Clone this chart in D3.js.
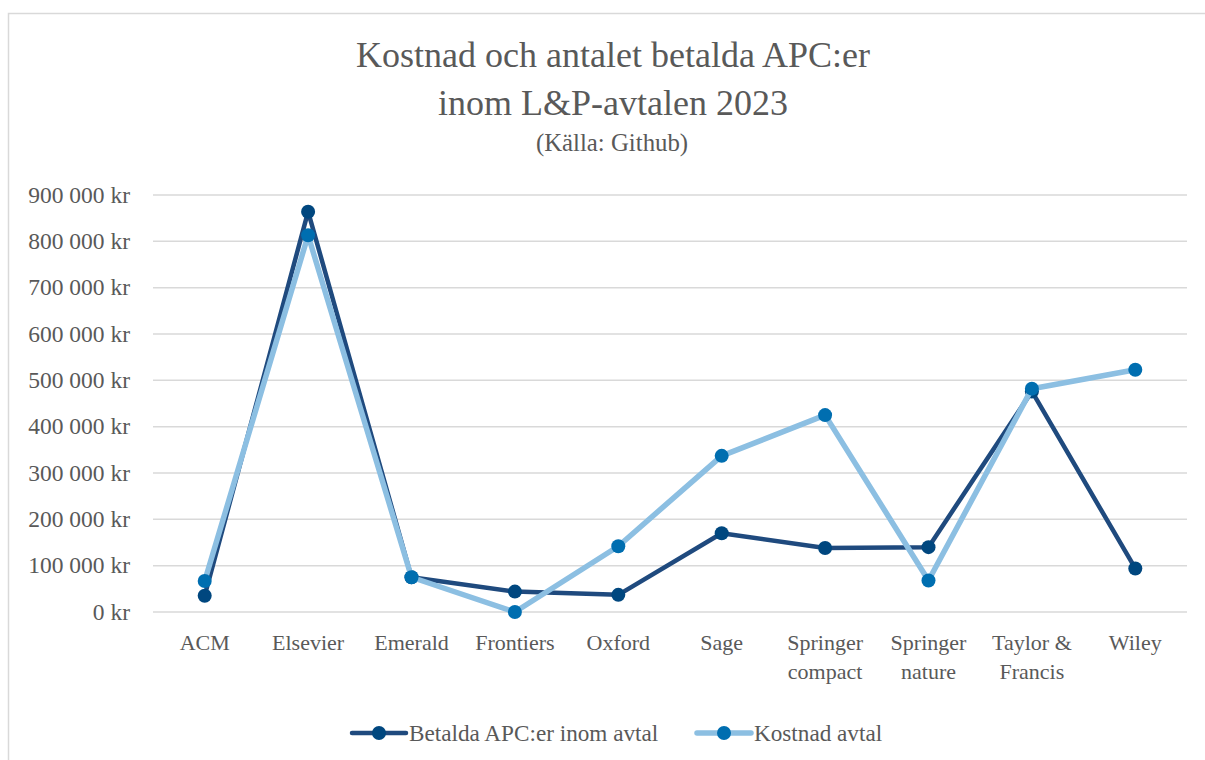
<!DOCTYPE html>
<html><head><meta charset="utf-8">
<script src="https://cdn.jsdelivr.net/npm/d3@7"></script>
<style>
html,body{margin:0;padding:0;background:#fff;}
svg{display:block;}
text{font-family:"Liberation Serif","Times New Roman",serif;fill:#595959;}
</style></head>
<body>
<svg id="chart" width="1205" height="760"></svg>
<script>
const categories = ["ACM","Elsevier","Emerald","Frontiers","Oxford","Sage","Springer compact","Springer nature","Taylor & Francis","Wiley"];
const categoryLines = [["ACM"],["Elsevier"],["Emerald"],["Frontiers"],["Oxford"],["Sage"],["Springer","compact"],["Springer","nature"],["Taylor &","Francis"],["Wiley"]];
const betalda = [35000, 864000, 75000, 44000, 37000, 170000, 138000, 140000, 476000, 94000];
const kostnad = [67000, 813000, 75000, 0, 142000, 337000, 425000, 68000, 482000, 523000];
const yTicks = [0,100000,200000,300000,400000,500000,600000,700000,800000,900000];
const seriesNames = ["Betalda APC:er inom avtal","Kostnad avtal"];
const titleLines = ["Kostnad och antalet betalda APC:er","inom L&P-avtalen 2023"];
const subtitle = "(Källa: Github)";

const svg = d3.select("#chart");
const fmt = v => d3.format(",")(v).replace(/,/g," ") + " kr";

// border
svg.append("rect").attr("x",8.5).attr("y",13.5).attr("width",1210).attr("height",760)
  .attr("fill","none").attr("stroke","#d9d9d9").attr("stroke-width",1.5);

const x = d3.scaleBand().domain(categories).range([153,1187]);
const y = d3.scaleLinear().domain([0,900000]).range([612,195]);

// gridlines
svg.append("g").selectAll("line").data(yTicks).join("line")
  .attr("x1",153).attr("x2",1187)
  .attr("y1",d=>y(d)).attr("y2",d=>y(d))
  .attr("stroke","#d9d9d9").attr("stroke-width",1.5);

// y labels
svg.append("g").selectAll("text").data(yTicks).join("text")
  .attr("x",130).attr("y",d=>y(d)+7.5)
  .attr("text-anchor","end").attr("font-size",23.5)
  .text(fmt);

// x labels
const xl = svg.append("g").selectAll("text").data(categories).join("text")
  .attr("text-anchor","middle").attr("font-size",22)
  .attr("x",d=>x(d)+x.bandwidth()/2).attr("y",650);
xl.each(function(d,i){
  const t = d3.select(this);
  categoryLines[i].forEach((ln,j)=>{
    t.append("tspan").attr("x",x(d)+x.bandwidth()/2).attr("dy", j===0?0:29).text(ln);
  });
});

// title
svg.append("text").attr("x",613).attr("y",67).attr("text-anchor","middle").attr("font-size",36).attr("fill","#5f5f5f").text(titleLines[0]);
svg.append("text").attr("x",613).attr("y",115).attr("text-anchor","middle").attr("font-size",36).attr("fill","#5f5f5f").text(titleLines[1]);
svg.append("text").attr("x",612).attr("y",151).attr("text-anchor","middle").attr("font-size",24.8).text(subtitle);

const cx = d => x(d)+x.bandwidth()/2;
const series = [
  {name:seriesNames[0], values:betalda, line:"#1f4a7e", marker:"#00477f", w:4.5},
  {name:seriesNames[1], values:kostnad, line:"#8cbfe2", marker:"#006eb0", w:5.5}
];
const lineGen = d3.line().x((v,i)=>cx(categories[i])).y(v=>y(v));
series.forEach(s=>{
  svg.append("path").datum(s.values).attr("d",lineGen)
    .attr("fill","none").attr("stroke",s.line).attr("stroke-width",s.w)
    .attr("stroke-linejoin","round").attr("stroke-linecap","round");
  svg.append("g").selectAll("circle").data(s.values).join("circle")
    .attr("cx",(v,i)=>cx(categories[i])).attr("cy",v=>y(v)).attr("r",7)
    .attr("fill",s.marker);
});

// legend
const legendX = [352, 697];
series.forEach((s,i)=>{
  const g = svg.append("g").attr("transform",`translate(${legendX[i]},733)`);
  g.append("line").attr("x1",0).attr("x2",54).attr("y1",0).attr("y2",0)
    .attr("stroke",s.line).attr("stroke-width",s.w).attr("stroke-linecap","round");
  g.append("circle").attr("cx",27).attr("cy",0).attr("r",7).attr("fill",s.marker);
  g.append("text").attr("x",57).attr("y",7.5).attr("font-size",23.2).text(s.name);
});
</script>
</body></html>
